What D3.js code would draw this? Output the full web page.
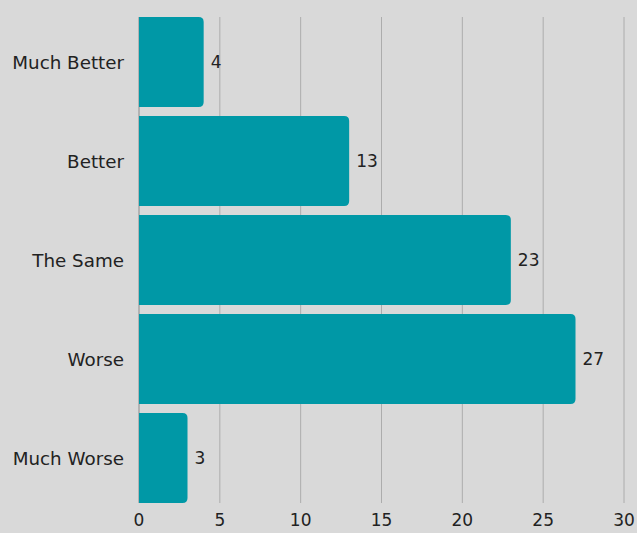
<!DOCTYPE html>
<html>
<head>
<meta charset="utf-8">
<script src="https://cdn.jsdelivr.net/npm/d3@7"></script>
<style>
body{margin:0;background:#d9d9d9;}
svg{display:block;font-family:"DejaVu Sans",sans-serif;}
</style>
</head>
<body>
<script>
//data
const categories=["Much Better","Better","The Same","Worse","Much Worse"]
const values=[4,13,23,27,3]
const ticks=[0,5,10,15,20,25,30]

//constants
const w=637
const h=533
const mLeft=139, mRight=624, mTop=17, mBottom=503

const svg=d3.select("body")
            .append("svg")
            .attr("width",w)
            .attr("height",h)

svg.append("rect").attr("width",w).attr("height",h).attr("fill","#d9d9d9")

//scales
const x=d3.scaleLinear().domain([0,30]).range([mLeft,mRight])
const y=d3.scaleBand().domain(categories).range([mTop,mBottom]).paddingInner(0.09).paddingOuter(0)

//grid
svg.append("g")
   .selectAll("line")
   .data(ticks)
   .enter()
   .append("line")
   .attr("x1",d=>x(d)).attr("x2",d=>x(d))
   .attr("y1",mTop).attr("y2",mBottom)
   .attr("stroke",d=>d===0?"#8c8c8c":"#acacac")
   .attr("stroke-width",1)

//bars with rounded right end
const r=5
svg.append("g")
   .selectAll("path")
   .data(values)
   .enter()
   .append("path")
   .attr("fill","#0098a6")
   .attr("d",(d,i)=>{
      const x0=x(0), x1=x(d), y0=y(categories[i]), y1=y0+y.bandwidth()
      return "M"+x0+","+y0+"H"+(x1-r)+"Q"+x1+","+y0+" "+x1+","+(y0+r)+
             "V"+(y1-r)+"Q"+x1+","+y1+" "+(x1-r)+","+y1+"H"+x0+"Z"
   })

//value labels
svg.append("g")
   .selectAll("text")
   .data(values)
   .enter()
   .append("text")
   .attr("x",d=>x(d)+7)
   .attr("y",(d,i)=>y(categories[i])+y.bandwidth()/2)
   .attr("dy","0.36em")
   .attr("font-size",17)
   .attr("fill","#222")
   .text(d=>d)

//category labels
svg.append("g")
   .selectAll("text")
   .data(categories)
   .enter()
   .append("text")
   .attr("x",124)
   .attr("y",d=>y(d)+y.bandwidth()/2)
   .attr("dy","0.36em")
   .attr("text-anchor","end")
   .attr("font-size",18.3)
   .attr("fill","#222")
   .text(d=>d)

//x tick labels
svg.append("g")
   .selectAll("text")
   .data(ticks)
   .enter()
   .append("text")
   .attr("x",d=>x(d))
   .attr("y",520)
   .attr("dy","0.36em")
   .attr("text-anchor","middle")
   .attr("font-size",17)
   .attr("fill","#222")
   .text(d=>d)
</script>
</body>
</html>
